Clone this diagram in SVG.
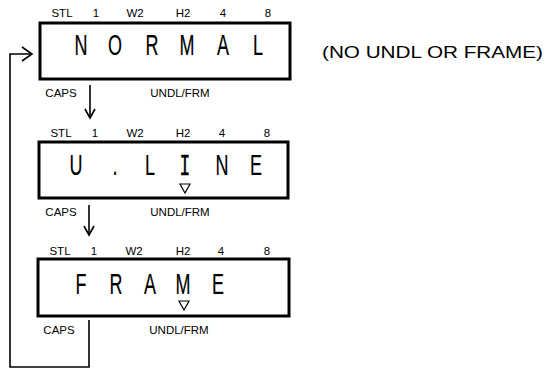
<svg xmlns="http://www.w3.org/2000/svg" width="554" height="369" viewBox="0 0 554 369">
<defs>
<style>
.bg{fill:#fff}
.box{fill:none;stroke:#000;stroke-width:3}
.lbl{font-family:"Liberation Sans",Arial,sans-serif;font-size:11.5px;fill:#000;text-anchor:middle}
.big{font-family:"Liberation Sans",Arial,sans-serif;font-size:30px;fill:#000;stroke:#000;stroke-width:0.2;text-anchor:middle}
.mono{font-family:"Liberation Mono","Courier New",monospace;font-size:30px;fill:#000;stroke:#000;stroke-width:0.4;text-anchor:middle}
.tri{fill:none;stroke:#000;stroke-width:1.2}
.ln{fill:none;stroke:#000;stroke-width:1.6}
.note{font-family:"Liberation Sans",Arial,sans-serif;font-size:16px;fill:#000}
</style>
</defs>
<rect class="bg" x="0" y="0" width="554" height="369"/>

<g id="connectors">
<polyline class="ln" points="89,320 89,367 10,367 10,54 32,54"/>
<polyline class="ln" points="22,47 32,54 22,61"/>
<line class="ln" x1="90" y1="85" x2="90" y2="118"/>
<polyline class="ln" points="85,109 90,118 95,109"/>
<line class="ln" x1="89" y1="205" x2="89" y2="235"/>
<polyline class="ln" points="84,226 89,235 94,226"/>
</g>

<g id="node-normal">
<text class="lbl" x="62" y="17">STL</text>
<text class="lbl" x="96" y="17">1</text>
<text class="lbl" x="135" y="17">W2</text>
<text class="lbl" x="183" y="17">H2</text>
<text class="lbl" x="223" y="17">4</text>
<text class="lbl" x="268" y="17">8</text>
<rect class="box" x="40" y="23" width="250" height="56"/>
<text class="big" transform="translate(81,55) scale(0.6,1)">N</text>
<text class="big" transform="translate(115,55) scale(0.6,1)">O</text>
<text class="big" transform="translate(152,55) scale(0.6,1)">R</text>
<text class="big" transform="translate(187,55) scale(0.6,1)">M</text>
<text class="big" transform="translate(223,55) scale(0.6,1)">A</text>
<text class="big" transform="translate(258,55) scale(0.6,1)">L</text>
<text class="lbl" x="61" y="97">CAPS</text>
<text class="lbl" x="180" y="97">UNDL/FRM</text>
</g>

<g id="note">
<text class="note" x="322" y="58" textLength="221" lengthAdjust="spacingAndGlyphs">(NO UNDL OR FRAME)</text>
</g>

<g id="node-uline">
<text class="lbl" x="61" y="137">STL</text>
<text class="lbl" x="95" y="137">1</text>
<text class="lbl" x="135" y="137">W2</text>
<text class="lbl" x="183" y="137">H2</text>
<text class="lbl" x="222" y="137">4</text>
<text class="lbl" x="267" y="137">8</text>
<rect class="box" x="39" y="142" width="249" height="56"/>
<text class="big" transform="translate(76,175) scale(0.6,1)">U</text>
<text class="big" transform="translate(115,175) scale(0.6,1)">.</text>
<text class="big" transform="translate(150,175) scale(0.6,1)">L</text>
<text class="mono" transform="translate(185,175) scale(0.6,1)">I</text>
<text class="big" transform="translate(222,175) scale(0.6,1)">N</text>
<text class="big" transform="translate(256,175) scale(0.6,1)">E</text>
<polygon class="tri" points="180,184 190,184 185,193"/>
<text class="lbl" x="61" y="216">CAPS</text>
<text class="lbl" x="180" y="216">UNDL/FRM</text>
</g>

<g id="node-frame">
<text class="lbl" x="60" y="255">STL</text>
<text class="lbl" x="94" y="255">1</text>
<text class="lbl" x="134" y="255">W2</text>
<text class="lbl" x="183" y="255">H2</text>
<text class="lbl" x="221" y="255">4</text>
<text class="lbl" x="267" y="255">8</text>
<rect class="box" x="38" y="259" width="251" height="57"/>
<text class="big" transform="translate(81,294) scale(0.6,1)">F</text>
<text class="big" transform="translate(116,294) scale(0.6,1)">R</text>
<text class="big" transform="translate(150,294) scale(0.6,1)">A</text>
<text class="big" transform="translate(183,294) scale(0.6,1)">M</text>
<text class="big" transform="translate(218,294) scale(0.6,1)">E</text>
<polygon class="tri" points="179,301 189,301 184,310"/>
<text class="lbl" x="59" y="334">CAPS</text>
<text class="lbl" x="179" y="334">UNDL/FRM</text>
</g>
</svg>
